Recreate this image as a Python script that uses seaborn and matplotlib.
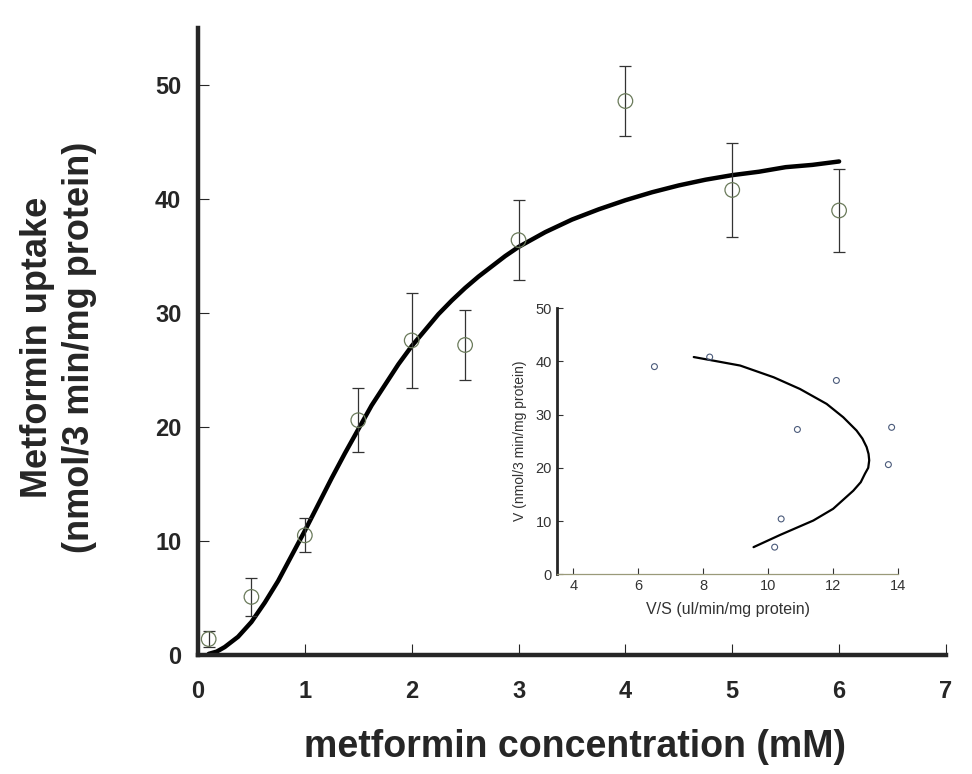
import numpy as np
import pandas as pd
import seaborn as sns
import matplotlib.pyplot as plt

# measured uptake (mean +/- error) at each metformin concentration
conc = [0.1, 0.5, 1.0, 1.5, 2.0, 2.5, 3.0, 4.0, 5.0, 6.0]  # mM
uptake = [1.4, 5.1, 10.5, 20.6, 27.6, 27.2, 36.4, 48.6, 40.8, 39.0]
uptake_err = [0.7, 1.7, 1.5, 2.8, 4.2, 3.1, 3.5, 3.1, 4.1, 3.6]

# fitted curve
fit_conc = [0.1, 0.175, 0.25, 0.375, 0.5, 0.625, 0.75, 0.875, 1.0, 1.125, 1.25,
            1.375, 1.5, 1.625, 1.75, 1.875, 2.0, 2.125, 2.25, 2.375, 2.5, 2.625,
            2.75, 2.875, 3.0, 3.25, 3.5, 3.75, 4.0, 4.25, 4.5, 4.75, 5.0, 5.25,
            5.5, 5.75, 6.0]
fit_uptake = [0.1, 0.3, 0.7, 1.6, 2.9, 4.6, 6.5, 8.7, 10.9, 13.2, 15.5,
              17.7, 19.8, 21.9, 23.7, 25.5, 27.1, 28.5, 29.9, 31.1, 32.2, 33.2,
              34.1, 35.0, 35.8, 37.1, 38.2, 39.1, 39.9, 40.6, 41.2, 41.7, 42.1, 42.4,
              42.8, 43.0, 43.3]

# inset: V vs V/S
inset_vs = [6.5, 8.2, 12.1, 10.9, 13.8, 13.7, 10.4, 10.2]
inset_v = [39.0, 40.8, 36.4, 27.2, 27.6, 20.6, 10.4, 5.1]
inset_fit_vs = [9.55, 10.37, 11.39, 12.0, 12.62, 12.85, 12.98, 13.08, 13.11, 13.09,
                13.03, 12.9, 12.72, 12.31, 11.80, 10.98, 10.17, 9.14, 7.71]
inset_fit_v = [5.1, 7.4, 10.1, 12.3, 15.7, 17.3, 18.9, 20.0, 21.4, 22.6,
               23.9, 25.5, 27.0, 29.5, 32.0, 34.8, 37.0, 39.2, 40.8]

sns.set_style("ticks")
plt.rcParams['font.family'] = ['Liberation Sans', 'DejaVu Sans']

df = pd.DataFrame({"conc": conc, "uptake": uptake, "err": uptake_err})
df_fit = pd.DataFrame({"conc": fit_conc, "uptake": fit_uptake})

fig = plt.figure(figsize=(9.72, 7.74), dpi=100)
ax = fig.add_axes([0.2037, 0.1537, 0.7695, 0.810])

# main curve + data
sns.lineplot(data=df_fit, x="conc", y="uptake", color="black", linewidth=3.2, ax=ax)
ax.errorbar(df["conc"], df["uptake"], yerr=df["err"], fmt="none", ecolor="#333333",
            elinewidth=0.9, capsize=4, capthick=0.9)
sns.scatterplot(data=df, x="conc", y="uptake", marker="o", s=110, facecolor="none",
                edgecolor="#6a7a5a", linewidth=0.9, ax=ax, zorder=3)

ax.set_xlim(0, 7)
ax.set_ylim(0, 55)
ax.set_xticks(range(0, 8))
ax.set_yticks(range(0, 51, 10))
ax.tick_params(direction="in", length=8, width=0.8, labelsize=17, pad=18, axis="x")
ax.tick_params(direction="in", length=8, width=0.8, labelsize=17, pad=12, axis="y")
for lbl in ax.get_xticklabels() + ax.get_yticklabels():
    lbl.set_fontweight("bold")
for s in ["left", "bottom"]:
    ax.spines[s].set_linewidth(3.2)
sns.despine(ax=ax)
ax.set_xlabel("metformin concentration (mM)", fontsize=27, fontweight="bold")
ax.xaxis.set_label_coords(0.504, -0.118)
ax.set_ylabel("Metformin uptake\n(nmol/3 min/mg protein)", fontsize=26,
              fontweight="bold", linespacing=1.25)
ax.yaxis.set_label_coords(-0.135, 0.49)

# inset
ins = fig.add_axes([0.573, 0.258, 0.351, 0.344])
ins.patch.set_alpha(0)
sns.lineplot(x=inset_fit_vs, y=inset_fit_v, sort=False, estimator=None,
             color="black", linewidth=1.6, ax=ins)
sns.scatterplot(x=inset_vs, y=inset_v, marker="o", s=18, facecolor="none",
                edgecolor="#4a5a7a", linewidth=0.8, ax=ins, zorder=3)
ins.set_xlim(3.5, 14)
ins.set_ylim(0, 50)
ins.set_xticks(range(4, 15, 2))
ins.set_yticks(range(0, 51, 10))
ins.tick_params(direction="in", length=4, width=0.8, labelsize=10.5, colors="#333333")
ins.spines["left"].set_linewidth(2)
ins.spines["bottom"].set_linewidth(0.9)
ins.spines["bottom"].set_color("#9a9a7a")
sns.despine(ax=ins)
ins.set_xlabel("V/S (ul/min/mg protein)", fontsize=11.5, color="#333333", labelpad=6)
ins.set_ylabel("V (nmol/3 min/mg protein)", fontsize=10, color="#333333", labelpad=6)

fig.savefig("out.png", dpi=100)
